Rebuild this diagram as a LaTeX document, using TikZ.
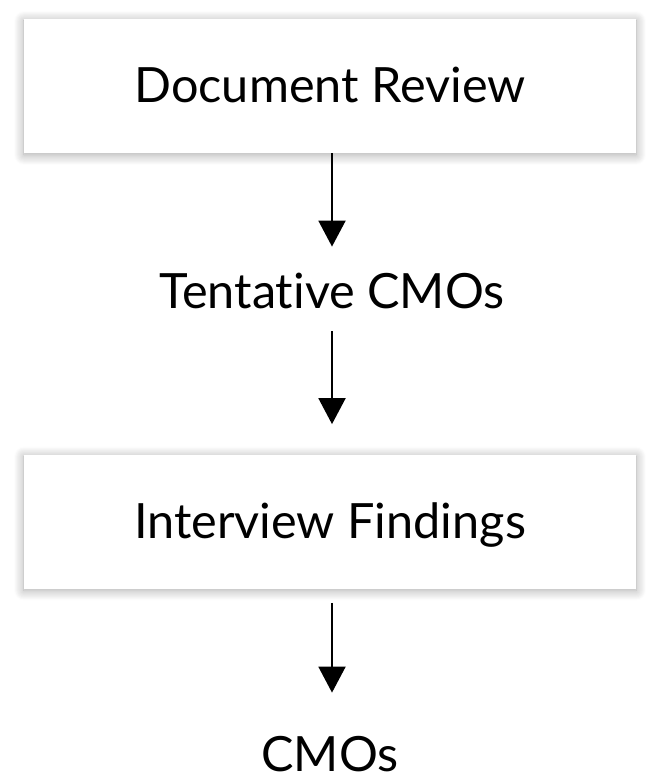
\documentclass[tikz,border=0pt]{standalone}
\usepackage{fontspec}
\setmainfont{Lato}[Ligatures=NoCommon]
\usepackage{xcolor}
\usepackage{tikz}
\usetikzlibrary{arrows.meta,shadows.blur}

\begin{document}
\begin{tikzpicture}[x=1pt, y=1pt,
        stagebox/.style={fill=white, minimum width=306pt, minimum height=67pt,
            inner sep=0pt, text height=17pt, text depth=0pt,
            font=\fontsize{24.3}{28}\selectfont,
            blur shadow={shadow xshift=0pt, shadow yshift=-1pt,
                shadow blur radius=5pt, shadow opacity=35, shadow blur steps=10}},
        stagetext/.style={inner sep=0pt, text height=17pt, text depth=0pt,
            font=\fontsize{24.3}{28}\selectfont},
        flow/.style={-{Triangle[width=13.5pt, length=13pt]}, line width=1pt}]
    \useasboundingbox (0,0) rectangle (330,-390);
    % stages
    \node[stagebox] (docreview) at (165,-43) {Document Review};
    \node[stagetext] (tentative) at (166,-145.5) {Tentative CMOs};
    \node[stagebox] (interview) at (165,-260.75) {Interview Findings};
    \node[stagetext] (cmos) at (165,-377) {CMOs};
    % arrows
    \draw[flow, shorten >=13.5pt] (docreview.south -| tentative.north) -- (tentative.north);
    \draw[flow, shorten <=11.5pt, shorten >=15pt] (tentative.south) -- (tentative.south |- interview.north);
    \draw[flow, shorten <=7pt, shorten >=22pt] (interview.south -| tentative.south) -- (tentative.south |- cmos.north);
\end{tikzpicture}
\end{document}
